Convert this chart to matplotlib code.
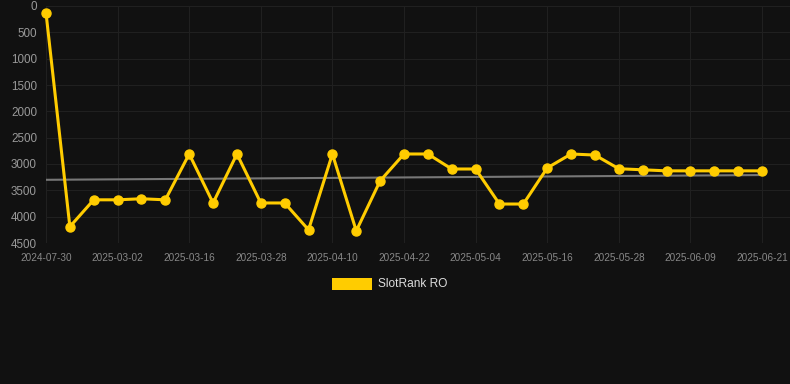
import matplotlib
matplotlib.use("Agg")
import matplotlib.pyplot as plt
from matplotlib.patches import Rectangle

plt.rcParams["font.family"] = ["Liberation Sans", "DejaVu Sans"]

# dates on the category axis (one point per entry, labels every 3rd)
dates = [
    "2024-07-30", "", "", "2025-03-02", "", "", "2025-03-16", "", "",
    "2025-03-28", "", "", "2025-04-10", "", "", "2025-04-22", "", "",
    "2025-05-04", "", "", "2025-05-16", "", "", "2025-05-28", "", "",
    "2025-06-09", "", "", "2025-06-21",
]
ranks = [
    130, 4190, 3680, 3680, 3660, 3680, 2810, 3740, 2810, 3740, 3740,
    4250, 2810, 4270, 3320, 2810, 2810, 3095, 3095, 3760, 3760, 3075,
    2810, 2830, 3090, 3110, 3130, 3130, 3130, 3130, 3130,
]
trend = [3300, 3210]  # trend line start / end
y_ticks = [0, 500, 1000, 1500, 2000, 2500, 3000, 3500, 4000, 4500]

BG = "#111111"
GOLD = "#FFCC00"

fig = plt.figure(figsize=(7.9, 3.84), dpi=100, facecolor=BG)
W, H = 790, 384
ax = fig.add_axes([46 / W, 1 - 243 / H, (790 - 46) / W, (243 - 6) / H])
ax.set_facecolor(BG)

x = list(range(len(ranks)))
ax.plot([x[0], x[-1]], trend, color="#777777", linewidth=1.5, zorder=2)
ax.plot(x, ranks, color=GOLD, linewidth=2.2, marker="o", markersize=6.5,
        markerfacecolor=GOLD, markeredgecolor=GOLD, zorder=3, clip_on=False)

ax.set_ylim(4500, 0)
ax.set_xlim(0, (790 - 46) / ((762 - 46) / 30))
ax.set_yticks(y_ticks)
ax.set_yticklabels([str(v) for v in y_ticks])

tick_pos = [i for i, d in enumerate(dates) if d]
ax.set_xticks(tick_pos)
ax.set_xticklabels([dates[i] for i in tick_pos])

ax.grid(True, color="#202020", linewidth=0.8)
ax.set_axisbelow(True)
for s in ax.spines.values():
    s.set_visible(False)
ax.tick_params(axis="y", colors="#999999", labelsize=8.4, length=0, pad=6.5)
ax.tick_params(axis="x", colors="#888888", labelsize=7.2, length=0, pad=7)

# legend box under the chart
fig.patches.append(Rectangle((332 / W, 1 - 290 / H), 40 / W, 12 / H,
                             transform=fig.transFigure, facecolor=GOLD,
                             edgecolor="none"))
fig.text(378 / W, 1 - 284 / H, "SlotRank RO", color="#dddddd", fontsize=8.6,
         va="center", ha="left")

fig.savefig("out.png", dpi=100, facecolor=BG)
